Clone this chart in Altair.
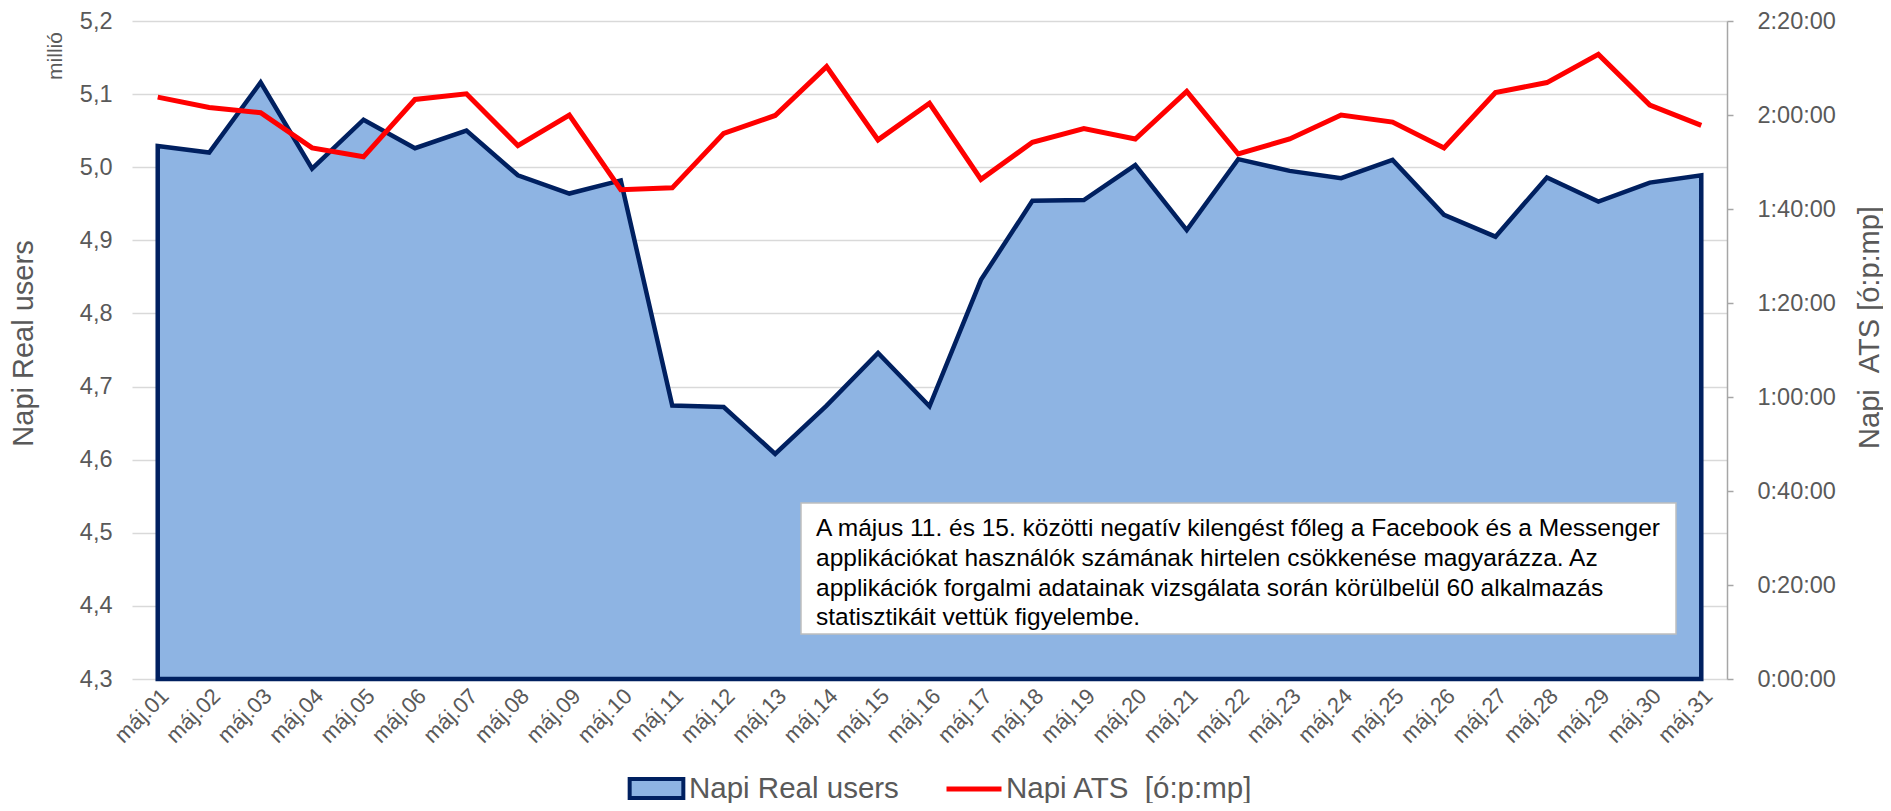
import altair as alt
import pandas as pd

days = ["máj.%02d" % d for d in range(1, 32)]

users = [5.029, 5.020, 5.116, 4.998, 5.065, 5.026, 5.050, 4.989, 4.964, 4.982,
         4.674, 4.672, 4.608, 4.674, 4.746, 4.673, 4.846, 4.954, 4.955, 5.003,
         4.914, 5.011, 4.995, 4.985, 5.010, 4.935, 4.905, 4.986, 4.953, 4.979,
         4.989]

# Napi ATS in minutes
ats = [123.8, 121.6, 120.5, 113.0, 111.1, 123.3, 124.5, 113.5, 120.0, 104.1,
       104.5, 116.1, 119.9, 130.3, 114.7, 122.5, 106.3, 114.2, 117.1, 114.9,
       125.0, 111.7, 114.9, 120.0, 118.5, 113.0, 124.8, 126.9, 132.9, 122.1,
       117.8]

users_ticks = [4.3, 4.4, 4.5, 4.6, 4.7, 4.8, 4.9, 5.0, 5.1, 5.2]
ats_ticks = [0, 20, 40, 60, 80, 100, 120, 140]

s_users = "Napi Real users"
s_ats = "Napi ATS \u00a0[ó:p:mp]"
ats_title = "Napi \u00a0ATS [ó:p:mp]"

note_lines = [
    "A május 11. és 15. közötti negatív kilengést főleg a Facebook és a Messenger",
    "applikációkat használók számának hirtelen csökkenése magyarázza. Az",
    "applikációk forgalmi adatainak vizsgálata során körülbelül 60 alkalmazás",
    "statisztikáit vettük figyelembe.",
]

df = pd.DataFrame({"day": days, "users": users, "ats": ats,
                   "s1": s_users, "s2": s_ats})
one = pd.DataFrame({"k": [0]})

GREY = "#595959"
W, H = 1595, 658

x_enc = alt.X("day:N", sort=days, scale=alt.Scale(type="point", padding=0.5),
              axis=alt.Axis(title=None, labelAngle=315, labelFontSize=22,
                            labelColor=GREY, ticks=False, domain=False,
                            grid=False, labelPadding=6))

area = alt.Chart(df).mark_area(stroke="#002060", strokeWidth=4.5, opacity=1).encode(
    x=x_enc,
    y=alt.Y("users:Q",
            scale=alt.Scale(domain=[4.3, 5.2], nice=False, zero=False),
            axis=alt.Axis(values=users_ticks, title="Napi Real users",
                          labelExpr="replace(format(datum.value, '.1f'), '.', ',')",
                          labelFontSize=23.5, labelColor=GREY, ticks=False,
                          domain=False, grid=True, gridColor="#D9D9D9",
                          gridWidth=1.5, labelPadding=20,
                          titleFontSize=29, titleFontWeight="normal",
                          titleColor=GREY, titleAngle=270, titleX=-109,
                          titleY=322, titleAlign="center",
                          titleBaseline="middle")),
    y2=alt.datum(4.3),
    color=alt.Color("s1:N",
                    scale=alt.Scale(domain=[s_users], range=["#8EB4E3"]),
                    legend=alt.Legend(title=None, orient="none",
                                      legendX=500, legendY=743,
                                      symbolType="M-1.2,-0.42H1.2V0.42H-1.2Z",
                                      symbolSize=2000,
                                      symbolStrokeColor="#002060",
                                      symbolStrokeWidth=4,
                                      symbolOpacity=1,
                                      labelFontSize=29.5, labelColor=GREY,
                                      labelOffset=8, labelLimit=0)),
)

line = alt.Chart(df).mark_line(strokeWidth=5).encode(
    x=x_enc,
    y=alt.Y("ats:Q",
            scale=alt.Scale(domain=[0, 140], nice=False, zero=True),
            axis=alt.Axis(orient="right", values=ats_ticks,
                          title=ats_title,
                          labelExpr="floor(datum.value/60) + ':' + (datum.value%60 < 10 ? '0' : '') + (datum.value%60) + ':00'",
                          labelFontSize=23.5, labelColor=GREY, ticks=True,
                          tickSize=6, tickColor="#A6A6A6", tickWidth=1.5,
                          domain=True, domainColor="#A6A6A6", domainWidth=1.5,
                          grid=False, labelPadding=24,
                          titleFontSize=29, titleFontWeight="normal",
                          titleColor=GREY, titleAngle=270, titleX=142,
                          titleY=306, titleAlign="center",
                          titleBaseline="middle")),
    color=alt.Color("s2:N",
                    scale=alt.Scale(domain=[s_ats], range=["#FF0000"]),
                    legend=alt.Legend(title=None, orient="none",
                                      legendX=812, legendY=738,
                                      symbolType="stroke", symbolSize=3025,
                                      symbolStrokeWidth=5,
                                      labelFontSize=29.5, labelColor=GREY,
                                      labelOffset=2, labelLimit=0)),
)

box = alt.Chart(one).mark_rect(fill="white", stroke="#BFBFBF",
                               strokeWidth=1.5).encode(
    x=alt.value(669), x2=alt.value(1544), y=alt.value(482), y2=alt.value(613))

note = alt.Chart(one).mark_text(align="left", baseline="top", fontSize=24.5,
                                lineHeight=29.8, color="black").encode(
    x=alt.value(684), y=alt.value(496), text=alt.value(note_lines))

millio = alt.Chart(one).mark_text(angle=270, fontSize=21, color=GREY,
                                  align="center", baseline="middle").encode(
    x=alt.value(-76), y=alt.value(35), text=alt.value("millió"))

chart = alt.layer(area, line, box, note, millio).resolve_scale(
    y="independent", color="independent"
).properties(
    width=W, height=H,
    padding={"left": 124, "top": 13, "right": 156, "bottom": 124},
    autosize=alt.AutoSizeParams(type="none"),
).configure(font="Arial").configure_view(stroke=None)

chart.save("out.html", embed_options={"renderer": "svg", "actions": False})
